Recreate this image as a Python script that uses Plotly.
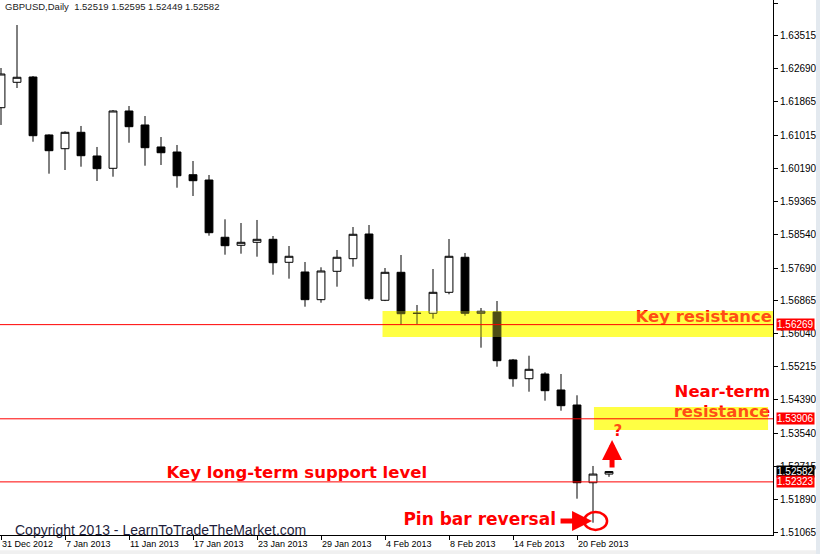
import plotly.graph_objects as go

# ---------------- data ----------------
dates = ["2012-12-31", "2013-01-02", "2013-01-03", "2013-01-04", "2013-01-07", "2013-01-08",
         "2013-01-09", "2013-01-10", "2013-01-11", "2013-01-14", "2013-01-15", "2013-01-16",
         "2013-01-17", "2013-01-18", "2013-01-21", "2013-01-22", "2013-01-23", "2013-01-24",
         "2013-01-25", "2013-01-28", "2013-01-29", "2013-01-30", "2013-01-31", "2013-02-01",
         "2013-02-04", "2013-02-05", "2013-02-06", "2013-02-07", "2013-02-08", "2013-02-11",
         "2013-02-12", "2013-02-13", "2013-02-14", "2013-02-15", "2013-02-18", "2013-02-19",
         "2013-02-20", "2013-02-21", "2013-02-22"]
opens = [1.61713, 1.62350, 1.62483, 1.61028, 1.60684, 1.61095, 1.60501, 1.60192, 1.61630, 1.61279,
         1.60727, 1.60601, 1.60031, 1.59898, 1.58461, 1.58260, 1.58335, 1.58410, 1.57833, 1.57590,
         1.56895, 1.57607, 1.57924, 1.58543, 1.56880, 1.57582, 1.56555, 1.56553, 1.57080, 1.57959,
         1.56553, 1.56586, 1.55382, 1.54912, 1.55030, 1.54629, 1.54252, 1.52302, 1.52519]
highs = [1.62709, 1.63788, 1.62508, 1.61045, 1.61120, 1.61254, 1.60727, 1.61655, 1.61755, 1.61504,
         1.60977, 1.60777, 1.60375, 1.60024, 1.58912, 1.58819, 1.58895, 1.58493, 1.58242, 1.57841,
         1.57708, 1.58142, 1.58719, 1.58769, 1.57690, 1.58016, 1.56762, 1.57665, 1.58418, 1.58067,
         1.56686, 1.56862, 1.55407, 1.55489, 1.55073, 1.55030, 1.54496, 1.52722, 1.52595]
lows = [1.61279, 1.62207, 1.60859, 1.60057, 1.60149, 1.60232, 1.59873, 1.59981, 1.60834, 1.60257,
        1.60275, 1.59705, 1.59497, 1.58501, 1.58024, 1.58049, 1.57974, 1.57522, 1.57422, 1.56719,
        1.56819, 1.57221, 1.57723, 1.56870, 1.56860, 1.56260, 1.56285, 1.56418, 1.57030, 1.56493,
        1.55690, 1.55213, 1.54711, 1.54586, 1.54360, 1.54109, 1.51901, 1.51299, 1.52449]
closes = [1.62558, 1.62476, 1.61010, 1.60634, 1.61095, 1.60508, 1.60182, 1.61630, 1.61236, 1.60709,
          1.60583, 1.60006, 1.59881, 1.58576, 1.58250, 1.58335, 1.58410, 1.57823, 1.57984, 1.56895,
          1.57615, 1.57959, 1.58536, 1.56920, 1.57582, 1.56543, 1.56551, 1.57080, 1.57984, 1.56553,
          1.56604, 1.55364, 1.54912, 1.55148, 1.54611, 1.54235, 1.52302, 1.52519, 1.52582]

x_tick_labels = ["31 Dec 2012", "7 Jan 2013", "11 Jan 2013", "17 Jan 2013", "23 Jan 2013",
                 "29 Jan 2013", "4 Feb 2013", "8 Feb 2013", "14 Feb 2013", "20 Feb 2013"]
y_tick_values = [1.64340, 1.63515, 1.62690, 1.61865, 1.61015, 1.60190, 1.59365, 1.58540, 1.57690,
                 1.56865, 1.56040, 1.55215, 1.54390, 1.53540, 1.52715, 1.51890, 1.51065]

key_resistance = 1.56269
near_term_resistance = 1.53906
support_level = 1.52323
last_close = closes[-1]

header = "GBPUSD,Daily\u00a0\u00a0{:.5f} {:.5f} {:.5f} {:.5f}".format(opens[-1], highs[-1], lows[-1], closes[-1])

# ---------------- figure ----------------
xs = list(range(len(dates)))
tick_idx = list(range(0, len(dates), 4))

fig = go.Figure()
fig.add_trace(go.Candlestick(
    x=xs, open=opens, high=highs, low=lows, close=closes, text=dates,
    increasing=dict(line=dict(color="black", width=1), fillcolor="white"),
    decreasing=dict(line=dict(color="black", width=1), fillcolor="black"),
    whiskerwidth=0, hoverinfo="text+y"))

RED = "#ff0000"
YEL = "#ffff44"
bold = "DejaVu Sans"

def txt(x, y, s, pos, size=16.5, color=RED):
    fig.add_trace(go.Scatter(x=[x], y=[y], mode="text", text=["<b>%s</b>" % s],
                             textposition=pos, hoverinfo="skip",
                             textfont=dict(family=bold, size=size, color=color)))

txt(48.19, 1.56436, "Key resistance", "middle left")
txt(48.07, 1.54554, "Near-term", "middle left")
txt(48.07, 1.54059, "resistance", "middle left")
txt(10.35, 1.52521, "Key long-term support level", "middle right")
txt(25.15, 1.51341, "Pin bar reversal", "middle right", size=17)
txt(38.56, 1.53575, "?", "middle center", size=15)

shapes = []
# highlighter bands (below and tinted overlay)
bands = [(23.85, 48.3, 1.55959, 1.56611), (37.06, 47.94, 1.53625, 1.54202)]
for (x0, x1, y0, y1) in bands:
    shapes.append(dict(type="rect", xref="x", yref="y", x0=x0, x1=x1, y0=y0, y1=y1,
                       fillcolor=YEL, line=dict(width=0), layer="below"))
for (x0, x1, y0, y1) in bands:
    shapes.append(dict(type="rect", xref="x", yref="y", x0=x0, x1=x1, y0=y0, y1=y1,
                       fillcolor=YEL, opacity=0.3, line=dict(width=0), layer="above"))
# horizontal levels
for lv in [key_resistance, near_term_resistance, support_level]:
    shapes.append(dict(type="line", xref="paper", yref="y", x0=0, x1=1, y0=lv, y1=lv,
                       line=dict(color=RED, width=1), layer="above"))
# pin bar circle
shapes.append(dict(type="circle", xref="x", yref="y", x0=36.44, x1=37.88, y0=1.51116, y1=1.51567,
                   line=dict(color=RED, width=2.5)))
# window strips
shapes.append(dict(type="rect", xref="paper", yref="paper", x0=-0.01, x1=1.07, y0=-0.0285, y1=-0.04,
                   fillcolor="#f0f0f0", line=dict(width=0)))
shapes.append(dict(type="rect", xref="paper", yref="paper", x0=1.0556, x1=1.07, y0=-0.04, y1=1.01,
                   fillcolor="#e3e9ef", line=dict(width=0)))

annotations = [
    dict(x=0, y=1, xref="paper", yref="paper", xanchor="left", yanchor="top", xshift=3, yshift=1,
         text=header, showarrow=False, font=dict(family="Liberation Sans", size=9.5, color="#222222")),
    dict(x=0, y=0, xref="paper", yref="paper", xanchor="left", yanchor="middle", xshift=13,
         yshift=5, text="Copyright 2013 - LearnToTradeTheMarket.com", showarrow=False,
         font=dict(family="Liberation Sans", size=14, color="#1e1e3c")),
    # arrows
    dict(x=38.19, y=1.53374, xref="x", yref="y", ax=0, ay=29, text="", showarrow=True,
         arrowhead=2, arrowsize=0.8, arrowwidth=5, arrowcolor=RED),
    dict(x=36.94, y=1.51341, xref="x", yref="y", ax=-33, ay=0, text="", showarrow=True,
         arrowhead=2, arrowsize=0.8, arrowwidth=5, arrowcolor=RED),
]
# price tags on the right axis
for val, bg in [(key_resistance, RED), (near_term_resistance, RED), (last_close, "black"),
                (support_level, RED)]:
    annotations.append(dict(x=1, y=val, xref="paper", yref="y", xanchor="left", yanchor="middle",
                            xshift=3, text="%.5f" % val, showarrow=False, bgcolor=bg, borderpad=0,
                            font=dict(family="Liberation Sans", size=10, color="white")))

fig.update_layout(
    width=820, height=554, margin=dict(l=0, r=47, t=0, b=19),
    paper_bgcolor="white", plot_bgcolor="white", showlegend=False,
    shapes=shapes, annotations=annotations,
    xaxis=dict(range=[-0.0625, 48.25], rangeslider=dict(visible=False), tickmode="array",
               tickvals=tick_idx, ticktext=x_tick_labels, ticks="outside", ticklen=4,
               tickcolor="black", showline=True, linecolor="black", linewidth=1, showgrid=False,
               zeroline=False, ticklabelposition="outside right", automargin=False,
               tickfont=dict(family="Liberation Sans", size=9, color="black")),
    yaxis=dict(side="right", range=[1.50990, 1.644153], tickmode="array", tickvals=y_tick_values,
               ticktext=["%.5f" % v for v in y_tick_values], ticks="outside", ticklen=4,
               tickcolor="black", showline=True, mirror=True, linecolor="black", linewidth=1,
               showgrid=False, zeroline=False, automargin=False,
               tickfont=dict(family="Liberation Sans", size=10, color="black")),
)

fig.write_html("out.html", config={"displayModeBar": False},
               post_script="document.body.style.margin='0';document.body.style.overflow='hidden';")
